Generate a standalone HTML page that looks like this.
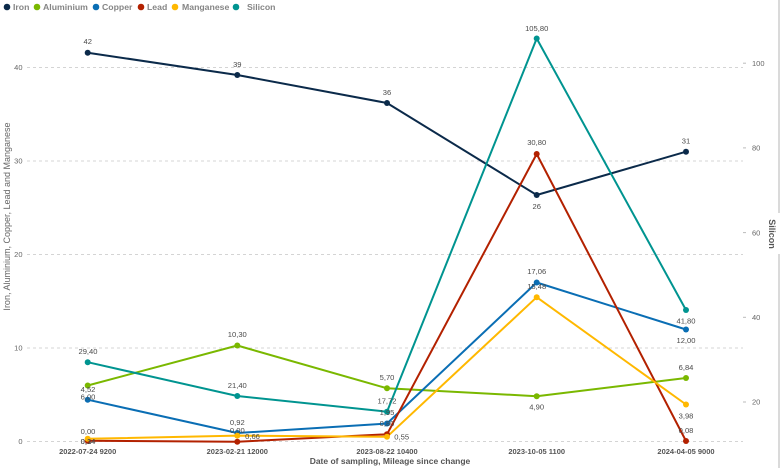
<!DOCTYPE html>
<html>
<head>
<meta charset="utf-8">
<style>
  html,body{margin:0;padding:0;background:#ffffff;}
  body{width:780px;height:468px;overflow:hidden;}
  svg{display:block;font-family:"Liberation Sans", Arial, sans-serif;}
  .lbl{font-size:7.6px;fill:#4a4a4a;text-anchor:middle;}
  .tick{font-size:7.5px;fill:#666;}
  .xl{font-size:7.5px;fill:#555;text-anchor:middle;font-weight:bold;}
  .leg{font-size:8.7px;fill:#858585;font-weight:bold;}
</style>
</head>
<body>
<svg width="780" height="468" viewBox="0 0 780 468" xmlns="http://www.w3.org/2000/svg">
  <!-- legend -->
  <g>
    <circle cx="7" cy="7" r="3.3" fill="#0b2a4a"/><text class="leg" x="13" y="10">Iron</text>
    <circle cx="37" cy="7" r="3.3" fill="#7ab800"/><text class="leg" x="43" y="10">Aluminium</text>
    <circle cx="96" cy="7" r="3.3" fill="#0a6eb4"/><text class="leg" x="102" y="10">Copper</text>
    <circle cx="141" cy="7" r="3.3" fill="#b32100"/><text class="leg" x="147" y="10">Lead</text>
    <circle cx="175" cy="7" r="3.3" fill="#ffb800"/><text class="leg" x="182" y="10">Manganese</text>
    <circle cx="236" cy="7" r="3.3" fill="#009490"/><text class="leg" x="247" y="10">Silicon</text>
  </g>

  <!-- gridlines -->
  <g stroke="#d4d4d4" stroke-width="1" stroke-dasharray="3,3">
    <line x1="27" y1="67.5" x2="743" y2="67.5"/>
    <line x1="27" y1="161" x2="743" y2="161"/>
    <line x1="27" y1="254.5" x2="743" y2="254.5"/>
    <line x1="27" y1="348" x2="743" y2="348"/>
    <line x1="27" y1="441.5" x2="743" y2="441.5"/>
  </g>

  <!-- left ticks -->
  <g class="tick" text-anchor="end">
    <text x="22.5" y="70.2">40</text>
    <text x="22.5" y="163.7">30</text>
    <text x="22.5" y="257.2">20</text>
    <text x="22.5" y="350.7">10</text>
    <text x="22.5" y="444.2">0</text>
  </g>

  <!-- right ticks -->
  <g stroke="#bbb" stroke-width="1">
    <line x1="743" y1="63.2" x2="746" y2="63.2"/>
    <line x1="743" y1="147.9" x2="746" y2="147.9"/>
    <line x1="743" y1="232.6" x2="746" y2="232.6"/>
    <line x1="743" y1="317.3" x2="746" y2="317.3"/>
    <line x1="743" y1="402" x2="746" y2="402"/>
  </g>
  <g class="tick" fill="#665">
    <text x="752" y="65.9">100</text>
    <text x="752" y="150.6">80</text>
    <text x="752" y="235.3">60</text>
    <text x="752" y="320">40</text>
    <text x="752" y="404.7">20</text>
  </g>

  <!-- right border line -->
  <line x1="779" y1="0" x2="779" y2="213" stroke="#b5b5b5" stroke-width="1"/>
  <line x1="779" y1="254" x2="779" y2="468" stroke="#b5b5b5" stroke-width="1"/>

  <!-- axis titles -->
  <text transform="translate(10,216.5) rotate(-90)" text-anchor="middle" font-size="9" fill="#666">Iron, Aluminium, Copper, Lead and Manganese</text>
  <text transform="translate(769,234) rotate(90)" text-anchor="middle" font-size="9" font-weight="bold" fill="#555">Silicon</text>
  <text x="390" y="464" text-anchor="middle" font-size="8.5" font-weight="bold" fill="#555">Date of sampling, Mileage since change</text>

  <!-- x labels -->
  <text class="xl" x="87.7" y="454">2022-07-24 9200</text>
  <text class="xl" x="237.3" y="454">2023-02-21 12000</text>
  <text class="xl" x="387" y="454">2023-08-22 10400</text>
  <text class="xl" x="536.7" y="454">2023-10-05 1100</text>
  <text class="xl" x="686" y="454">2024-04-05 9000</text>

  <!-- series -->
  <g fill="none" stroke-width="2" stroke-linejoin="round">
    <polyline stroke="#0b2a4a" points="87.7,52.7 237.3,75 387,103 536.7,195 686,151.7"/>
    <polyline stroke="#7ab800" points="87.7,385.5 237.3,345.5 387,388.3 536.7,396.2 686,378"/>
    <polyline stroke="#0a6eb4" points="87.7,399.7 237.3,433 387,423.5 536.7,282.5 686,329.5"/>
    <polyline stroke="#b32100" points="87.7,440.7 237.3,441.7 387,434.3 536.7,154 686,441"/>
    <polyline stroke="#ffb800" points="87.7,438.8 237.3,435.6 387,436.8 536.7,297.2 686,404.5"/>
    <polyline stroke="#009490" points="87.7,362.2 237.3,396 387,411.7 536.7,38.5 686,310"/>
  </g>
  <g>
    <g fill="#0b2a4a">
      <circle cx="87.7" cy="52.7" r="3"/><circle cx="237.3" cy="75" r="3"/><circle cx="387" cy="103" r="3"/><circle cx="536.7" cy="195" r="3"/><circle cx="686" cy="151.7" r="3"/>
    </g>
    <g fill="#7ab800">
      <circle cx="87.7" cy="385.5" r="3"/><circle cx="237.3" cy="345.5" r="3"/><circle cx="387" cy="388.3" r="3"/><circle cx="536.7" cy="396.2" r="3"/><circle cx="686" cy="378" r="3"/>
    </g>
    <g fill="#0a6eb4">
      <circle cx="87.7" cy="399.7" r="3"/><circle cx="237.3" cy="433" r="3"/><circle cx="387" cy="423.5" r="3"/><circle cx="536.7" cy="282.5" r="3"/><circle cx="686" cy="329.5" r="3"/>
    </g>
    <g fill="#b32100">
      <circle cx="87.7" cy="440.7" r="3"/><circle cx="237.3" cy="441.7" r="3"/><circle cx="387" cy="434.3" r="3"/><circle cx="536.7" cy="154" r="3"/><circle cx="686" cy="441" r="3"/>
    </g>
    <g fill="#ffb800">
      <circle cx="87.7" cy="438.8" r="3"/><circle cx="237.3" cy="435.6" r="3"/><circle cx="387" cy="436.8" r="3"/><circle cx="536.7" cy="297.2" r="3"/><circle cx="686" cy="404.5" r="3"/>
    </g>
    <g fill="#009490">
      <circle cx="87.7" cy="362.2" r="3"/><circle cx="237.3" cy="396" r="3"/><circle cx="387" cy="411.7" r="3"/><circle cx="536.7" cy="38.5" r="3"/><circle cx="686" cy="310" r="3"/>
    </g>
  </g>

  <!-- data labels -->
  <g class="lbl">
    <text x="87.7" y="43.8">42</text>
    <text x="237.3" y="66.8">39</text>
    <text x="387" y="94.8">36</text>
    <text x="536.7" y="208.8">26</text>
    <text x="686" y="143.5">31</text>
    <text x="88" y="353.8">29,40</text>
    <text x="237.3" y="387.8">21,40</text>
    <text x="387" y="403.5">17,72</text>
    <text x="536.7" y="30.8">105,80</text>
    <text x="686" y="323.5">41,80</text>
    <text x="88" y="391.8">4,52</text>
    <text x="88" y="399.5">6,00</text>
    <text x="237.3" y="337.1">10,30</text>
    <text x="387" y="379.8">5,70</text>
    <text x="536.7" y="409.5">4,90</text>
    <text x="686" y="369.8">6,84</text>
    <text x="237.3" y="425.1">0,92</text>
    <text x="387" y="414.8">1,95</text>
    <text x="536.7" y="273.8">17,06</text>
    <text x="686" y="342.8">12,00</text>
    <text x="88" y="433.8">0,00</text>
    <text x="88" y="443.8">0,14</text>
    <text x="88" y="443.8">0,34</text>
    <text x="237.3" y="432.8">0,00</text>
    <text x="387" y="425.8">0,80</text>
    <text x="536.7" y="144.8">30,80</text>
    <text x="686" y="432.8">0,08</text>
    <text x="252.5" y="438.8">0,66</text>
    <text x="401.7" y="439.5">0,55</text>
    <text x="536.7" y="288.8">15,48</text>
    <text x="686" y="418.5">3,98</text>
  </g>
</svg>
</body>
</html>
